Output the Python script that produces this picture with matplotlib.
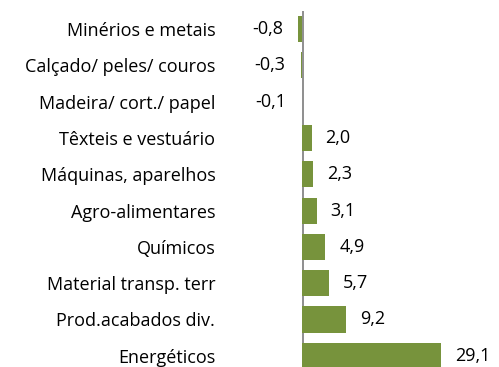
import matplotlib
matplotlib.use("Agg")
import matplotlib.pyplot as plt

# Contributions by product group
categories = ["Minérios e metais", "Calçado/ peles/ couros", "Madeira/ cort./ papel",
              "Têxteis e vestuário", "Máquinas, aparelhos", "Agro-alimentares",
              "Químicos", "Material transp. terr", "Prod.acabados div.", "Energéticos"]
values = [-0.8, -0.3, -0.1, 2.0, 2.3, 3.1, 4.9, 5.7, 9.2, 29.1]

plt.rcParams['font.family'] = ['Open Sans', 'DejaVu Sans']

fig = plt.figure(figsize=(4.99, 3.67), dpi=100)
ax = fig.add_axes([225 / 499, 0, 265 / 499, 356 / 367])

pos = list(range(len(categories)))
ax.barh(pos, values, height=0.72, color="#77933C", zorder=3)

ax.set_xlim(-16.1, 39.3)
ax.set_ylim(9.31, -0.5)

ax.axvline(0.15, color="#868686", linewidth=1.3, zorder=2)

ax.set_yticks(pos)
ax.set_yticklabels(categories, fontsize=13)
ax.tick_params(axis="y", length=0, pad=7)
ax.set_xticks([])
for s in ax.spines.values():
    s.set_visible(False)

for p, v in zip(pos, values):
    txt = f"{v:.1f}".replace(".", ",")
    if v < 0:
        ax.annotate(txt, (v, p), xytext=(-11, 0), textcoords="offset points",
                    ha="right", va="center", fontsize=13)
    else:
        ax.annotate(txt, (v, p), xytext=(10, 0), textcoords="offset points",
                    ha="left", va="center", fontsize=13)

fig.savefig("out.png", dpi=100)
